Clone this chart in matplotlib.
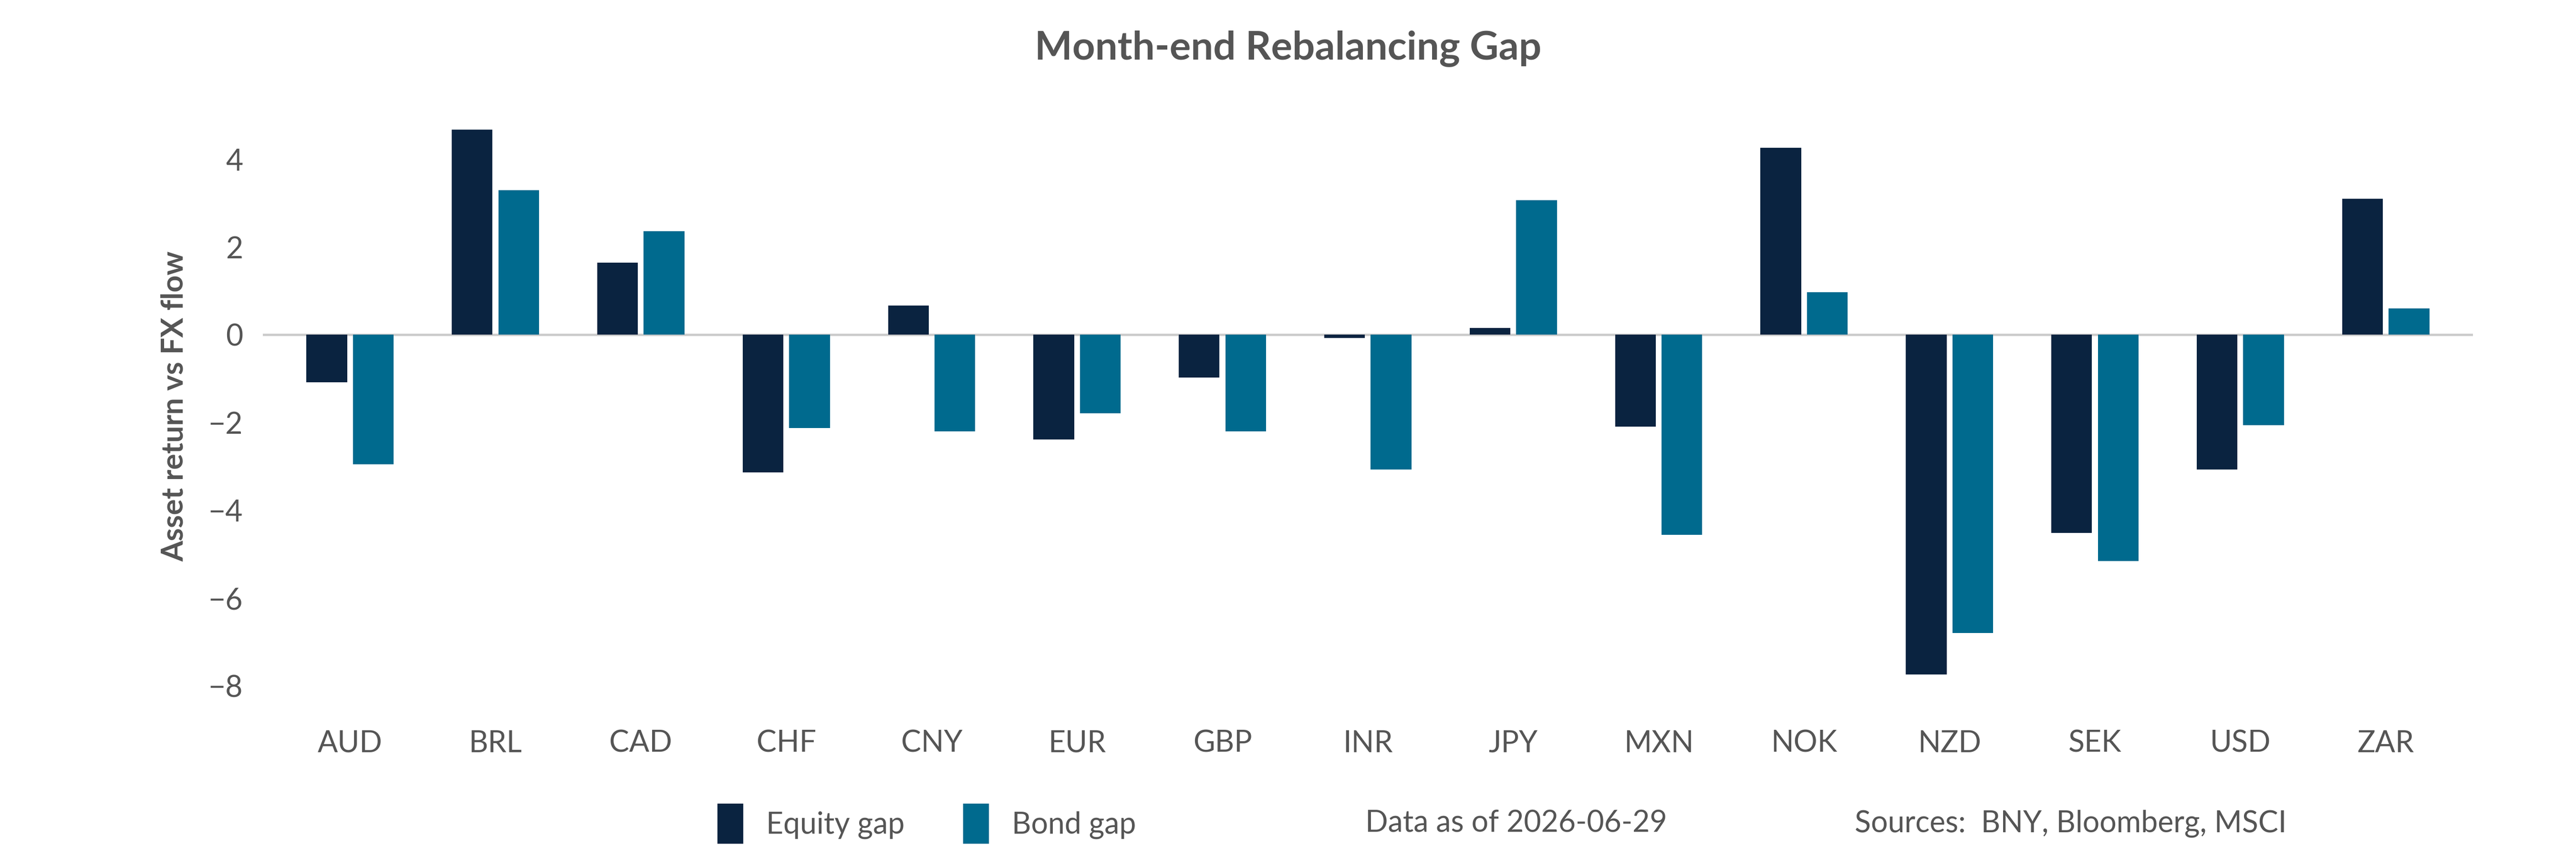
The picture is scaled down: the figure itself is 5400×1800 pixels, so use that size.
import matplotlib.pyplot as plt
import numpy as np
from matplotlib.patches import Patch

plt.rcParams['font.family'] = ['Lato', 'DejaVu Sans']

currencies = ['AUD', 'BRL', 'CAD', 'CHF', 'CNY', 'EUR', 'GBP', 'INR', 'JPY',
              'MXN', 'NOK', 'NZD', 'SEK', 'USD', 'ZAR']
equity_gap = [-1.08, 4.67, 1.64, -3.14, 0.67, -2.39, -0.97, -0.07, 0.15,
              -2.09, 4.26, -7.74, -4.52, -3.07, 3.10]
bond_gap = [-2.95, 3.29, 2.36, -2.13, -2.20, -1.79, -2.20, -3.07, 3.07,
            -4.56, 0.97, -6.80, -5.16, -2.06, 0.60]

eq_color = '#0a2340'
bd_color = '#006a8e'
txt = '#555555'

fig = plt.figure(figsize=(18, 6), dpi=300)
ax = fig.add_axes([0.102, 0.168, 0.858, 0.717])

x = np.arange(len(currencies))
w = 0.28
ax.bar(x - 0.16, equity_gap, w, color=eq_color)
ax.bar(x + 0.16, bond_gap, w, color=bd_color)

ax.set_xlim(-0.6, len(currencies) - 0.4)
ax.set_ylim(-8.64, 5.38)
ax.set_yticks([-8, -6, -4, -2, 0, 2, 4])
ax.set_yticklabels(['\u22128', '\u22126', '\u22124', '\u22122', '0', '2', '4'])
ax.set_xticks(x)
ax.set_xticklabels(currencies)
ax.tick_params(length=0, labelsize=15, colors=txt, pad=10)
ax.tick_params(axis='x', pad=8)
for s in ax.spines.values():
    s.set_visible(False)
ax.axhline(0, color='#cccccc', lw=1.2, zorder=0)

ax.set_ylabel('Asset return vs FX flow', fontsize=15, fontweight='bold', color=txt, labelpad=10)
fig.suptitle('Month-end Rebalancing Gap', fontsize=20, fontweight='bold', color=txt, y=0.965)

handles = [Patch(color=eq_color), Patch(color=bd_color)]
fig.legend(handles, ['Equity gap', 'Bond gap'], loc='center', bbox_to_anchor=(0.36, 0.04),
           ncol=2, frameon=False, fontsize=15, labelcolor=txt, handlelength=0.8,
           handleheight=1.6, columnspacing=2.0)
fig.text(0.53, 0.04, 'Data as of 2026-06-29', fontsize=15, color=txt, va='center')
fig.text(0.72, 0.04, 'Sources:  BNY, Bloomberg, MSCI', fontsize=15, color=txt, va='center')

fig.savefig('out.png')
